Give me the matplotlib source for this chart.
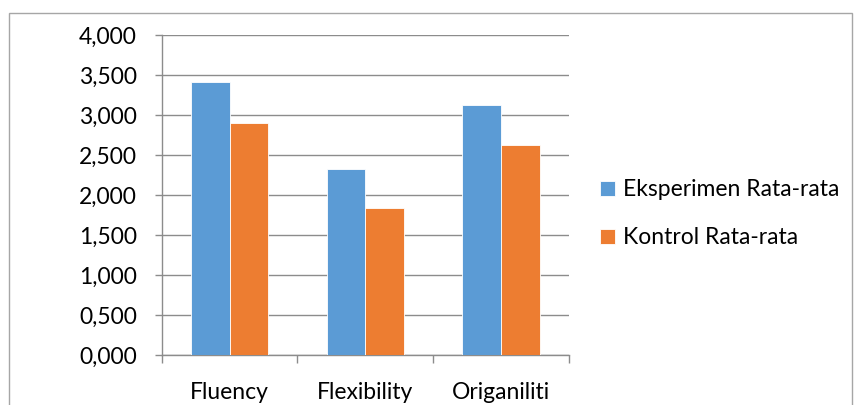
import matplotlib
matplotlib.use("Agg")
import matplotlib.pyplot as plt
import numpy as np
from matplotlib.patches import Rectangle

categories = ["Fluency", "Flexibility", "Origaniliti"]
eksperimen = [3.412, 2.325, 3.129]
kontrol = [2.896, 1.841, 2.625]
series_names = ["Eksperimen Rata-rata", "Kontrol Rata-rata"]
yticks = [0, 0.5, 1.0, 1.5, 2.0, 2.5, 3.0, 3.5, 4.0]

plt.rcParams['font.family'] = ['Lato', 'DejaVu Sans']
FS = 16.5

fig = plt.figure(figsize=(8.63, 4.05), dpi=100)
ax = fig.add_axes([0.1874, 0.1235, 0.6593 - 0.1874, 0.9136 - 0.1235])

x = np.arange(len(categories))
w = 0.286
blue = "#5B9BD5"
orange = "#ED7D31"
ax.bar(x - w / 2, eksperimen, w, color=blue, edgecolor="white", linewidth=0.6,
       label=series_names[0], zorder=3)
ax.bar(x + w / 2, kontrol, w, color=orange, edgecolor="white", linewidth=0.6,
       label=series_names[1], zorder=3)

ax.set_xlim(-0.5, len(categories) - 0.5)
ax.set_ylim(0, 4.0)
ax.set_yticks(yticks)
ax.set_yticklabels([f"{v:.3f}".replace(".", ",") for v in yticks])
ax.yaxis.grid(True, color="#8C8C8C", linewidth=1.0, zorder=0)

ax.set_xticks(x)
ax.set_xticklabels(categories)
ax.set_xticks(np.arange(-0.5, len(categories)), minor=True)
ax.tick_params(axis="x", which="major", length=0, pad=19.5, labelsize=FS, colors="#000000")
ax.tick_params(axis="x", which="minor", length=5.5, width=1.0, color="#8C8C8C")
ax.tick_params(axis="y", length=4.8, width=1.0, color="#8C8C8C", pad=13, labelsize=FS)

for s in ["top", "right"]:
    ax.spines[s].set_visible(False)
for s in ["left", "bottom"]:
    ax.spines[s].set_color("#8C8C8C")
    ax.spines[s].set_linewidth(1.0)

leg = fig.legend(loc="center left", bbox_to_anchor=(0.677, 0.472), frameon=False,
                 fontsize=FS, handlelength=0.62, handleheight=0.62,
                 handletextpad=0.38, labelspacing=1.18, borderpad=0.2)

fig.patches.append(Rectangle((9 / 863, -0.05), (852 - 9) / 863, (405 - 13) / 405 + 0.05,
                             transform=fig.transFigure, fill=False,
                             edgecolor="#A6A6A6", linewidth=1.0))

fig.savefig("out.png", dpi=100)
